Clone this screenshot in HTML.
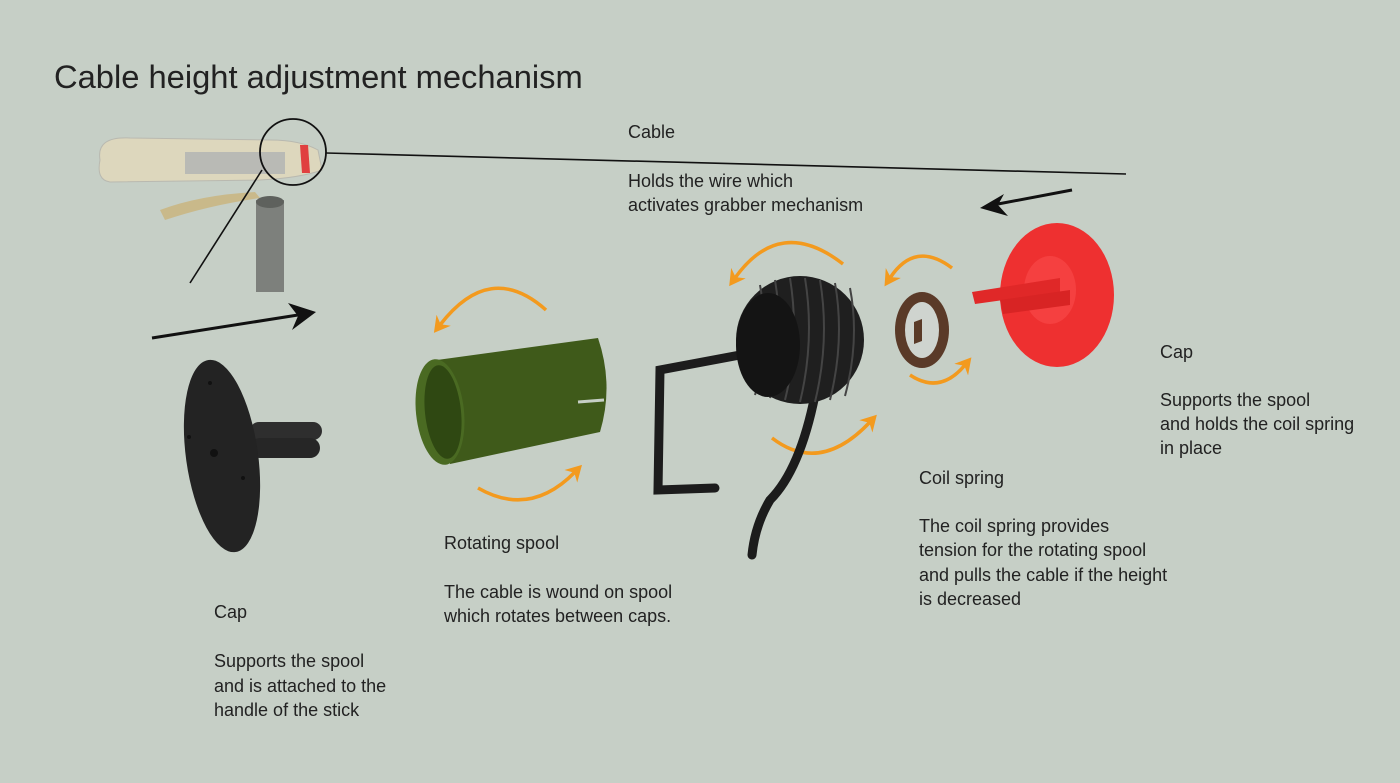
<!DOCTYPE html>
<html><head><meta charset="utf-8"><style>
html,body{margin:0;padding:0;background:#c6cfc6;}
svg{display:block}
text{font-family:"Liberation Sans",sans-serif;fill:#222;font-size:18px}
</style></head><body>
<svg width="1400" height="783" viewBox="0 0 1400 783">
<rect width="1400" height="783" fill="#c6cfc6"/>
<defs>
<marker id="ah" markerWidth="18" markerHeight="18" refX="6" refY="9" orient="auto" markerUnits="userSpaceOnUse"><path d="M0,0 L16,9 L0,18 L5,9z" fill="#f39a1e"/></marker>
</defs>
<text x="54" y="88" style="font-size:32.7px">Cable height adjustment mechanism</text>

<!-- seat illustration -->
<g>
<path d="M100,160 Q96,136 130,138 L270,140 Q300,140 318,150 L322,170 Q300,178 260,180 L110,182 Q96,180 100,160z" fill="#ddd7bd" stroke="#b9b9b0"/>
<rect x="185" y="152" width="100" height="22" fill="#b9bab5"/>
<path d="M160,210 Q200,195 255,192 L260,198 Q210,205 165,220z" fill="#c9b98a"/>
<rect x="256" y="200" width="28" height="92" fill="#7d807c"/>
<ellipse cx="270" cy="202" rx="14" ry="6" fill="#5e615d"/>
<path d="M300,145 l8,0 l2,28 l-8,0z" fill="#e04040"/>
</g>
<circle cx="293" cy="152" r="33" fill="none" stroke="#111" stroke-width="1.8"/>
<line x1="326" y1="153" x2="1126" y2="174" stroke="#111" stroke-width="1.6"/>
<line x1="190" y1="283" x2="262" y2="170" stroke="#111" stroke-width="1.6"/>

<text x="628" y="138">Cable</text>
<text x="628" y="187">Holds the wire which</text>
<text x="628" y="211">activates grabber mechanism</text>

<!-- black arrows -->
<line x1="152" y1="338" x2="298" y2="315" stroke="#111" stroke-width="3"/>
<path d="M316,312 L288,303 L298,316 L292,330z" fill="#111"/>
<line x1="1072" y1="190" x2="998" y2="204" stroke="#111" stroke-width="3"/>
<path d="M980,208 L1004,194 L998,205 L1008,216z" fill="#111"/>

<!-- left cap -->
<rect x="250" y="422" width="72" height="18" rx="9" fill="#2e2e2e"/>
<rect x="250" y="438" width="70" height="20" rx="10" fill="#262626"/>
<ellipse cx="222" cy="456" rx="36" ry="97" transform="rotate(-8 222 456)" fill="#232323"/>
<circle cx="214" cy="453" r="4" fill="#111"/>
<circle cx="210" cy="383" r="2" fill="#111"/>
<circle cx="243" cy="478" r="2" fill="#111"/>
<circle cx="189" cy="437" r="2" fill="#111"/>

<!-- green spool -->
<path d="M437,360 L598,338 Q614,385 600,432 L450,464z" fill="#3f5a1a"/>
<ellipse cx="440" cy="412" rx="24" ry="53" transform="rotate(-6 440 412)" fill="#4a6a22"/>
<ellipse cx="443" cy="412" rx="18" ry="47" transform="rotate(-6 443 412)" fill="#2f4812"/>
<path d="M578,402 L604,400" stroke="#c6cfc6" stroke-width="3"/>

<!-- orange arrows -->
<g fill="none" stroke="#f39a1e" stroke-width="3.5" marker-end="url(#ah)">
<path d="M546,310 Q490,260 440,325"/>
<path d="M478,488 Q530,518 575,472"/>
<path d="M843,264 Q780,215 735,278"/>
<path d="M772,438 Q820,475 870,422"/>
<path d="M952,268 Q915,240 890,278"/>
<path d="M910,375 Q940,395 965,365"/>
</g>

<!-- torsion spring -->
<g fill="none" stroke="#1c1c1c" stroke-linecap="round">
<path d="M740,355 L660,370 L658,490 L715,488" stroke-width="9"/>
<path d="M815,395 Q800,470 770,500 Q755,525 752,555" stroke-width="9"/>
</g>
<ellipse cx="800" cy="340" rx="64" ry="64" fill="#1f1f1f"/>
<g stroke="#444" stroke-width="2" fill="none">
<path d="M760,285 Q770,340 755,395"/><path d="M775,280 Q785,340 770,398"/>
<path d="M790,278 Q800,340 785,400"/><path d="M805,278 Q815,340 800,402"/>
<path d="M820,280 Q830,340 815,402"/><path d="M835,283 Q845,340 830,400"/>
<path d="M850,288 Q860,340 845,396"/>
</g>
<ellipse cx="768" cy="345" rx="32" ry="52" fill="#141414"/>

<!-- coil spring -->
<ellipse cx="922" cy="330" rx="27" ry="38" fill="#5a3a28"/>
<ellipse cx="922" cy="330" rx="17" ry="28" fill="#cfd4cf"/>
<path d="M914,322 l8,-3 l0,22 l-8,3z" fill="#5a3a28"/>

<!-- red cap -->
<ellipse cx="1057" cy="295" rx="57" ry="72" fill="#ee3030"/>
<ellipse cx="1050" cy="290" rx="26" ry="34" fill="#f54040"/>
<path d="M972,292 L1060,278 L1060,292 L975,304z" fill="#e02828"/>
<path d="M1000,300 L1070,290 L1070,305 L1003,314z" fill="#d82424"/>

<text x="1160" y="358">Cap</text>
<text x="1160" y="406">Supports the spool</text>
<text x="1160" y="430">and holds the coil spring</text>
<text x="1160" y="454">in place</text>

<text x="919" y="484">Coil spring</text>
<text x="919" y="532">The coil spring provides</text>
<text x="919" y="556">tension for the rotating spool</text>
<text x="919" y="581">and pulls the cable if the height</text>
<text x="919" y="605">is decreased</text>

<text x="444" y="549">Rotating spool</text>
<text x="444" y="598">The cable is wound on spool</text>
<text x="444" y="622">which rotates between caps.</text>

<text x="214" y="618">Cap</text>
<text x="214" y="667">Supports the spool</text>
<text x="214" y="692">and is attached to the</text>
<text x="214" y="716">handle of the stick</text>
</svg>
</body></html>
